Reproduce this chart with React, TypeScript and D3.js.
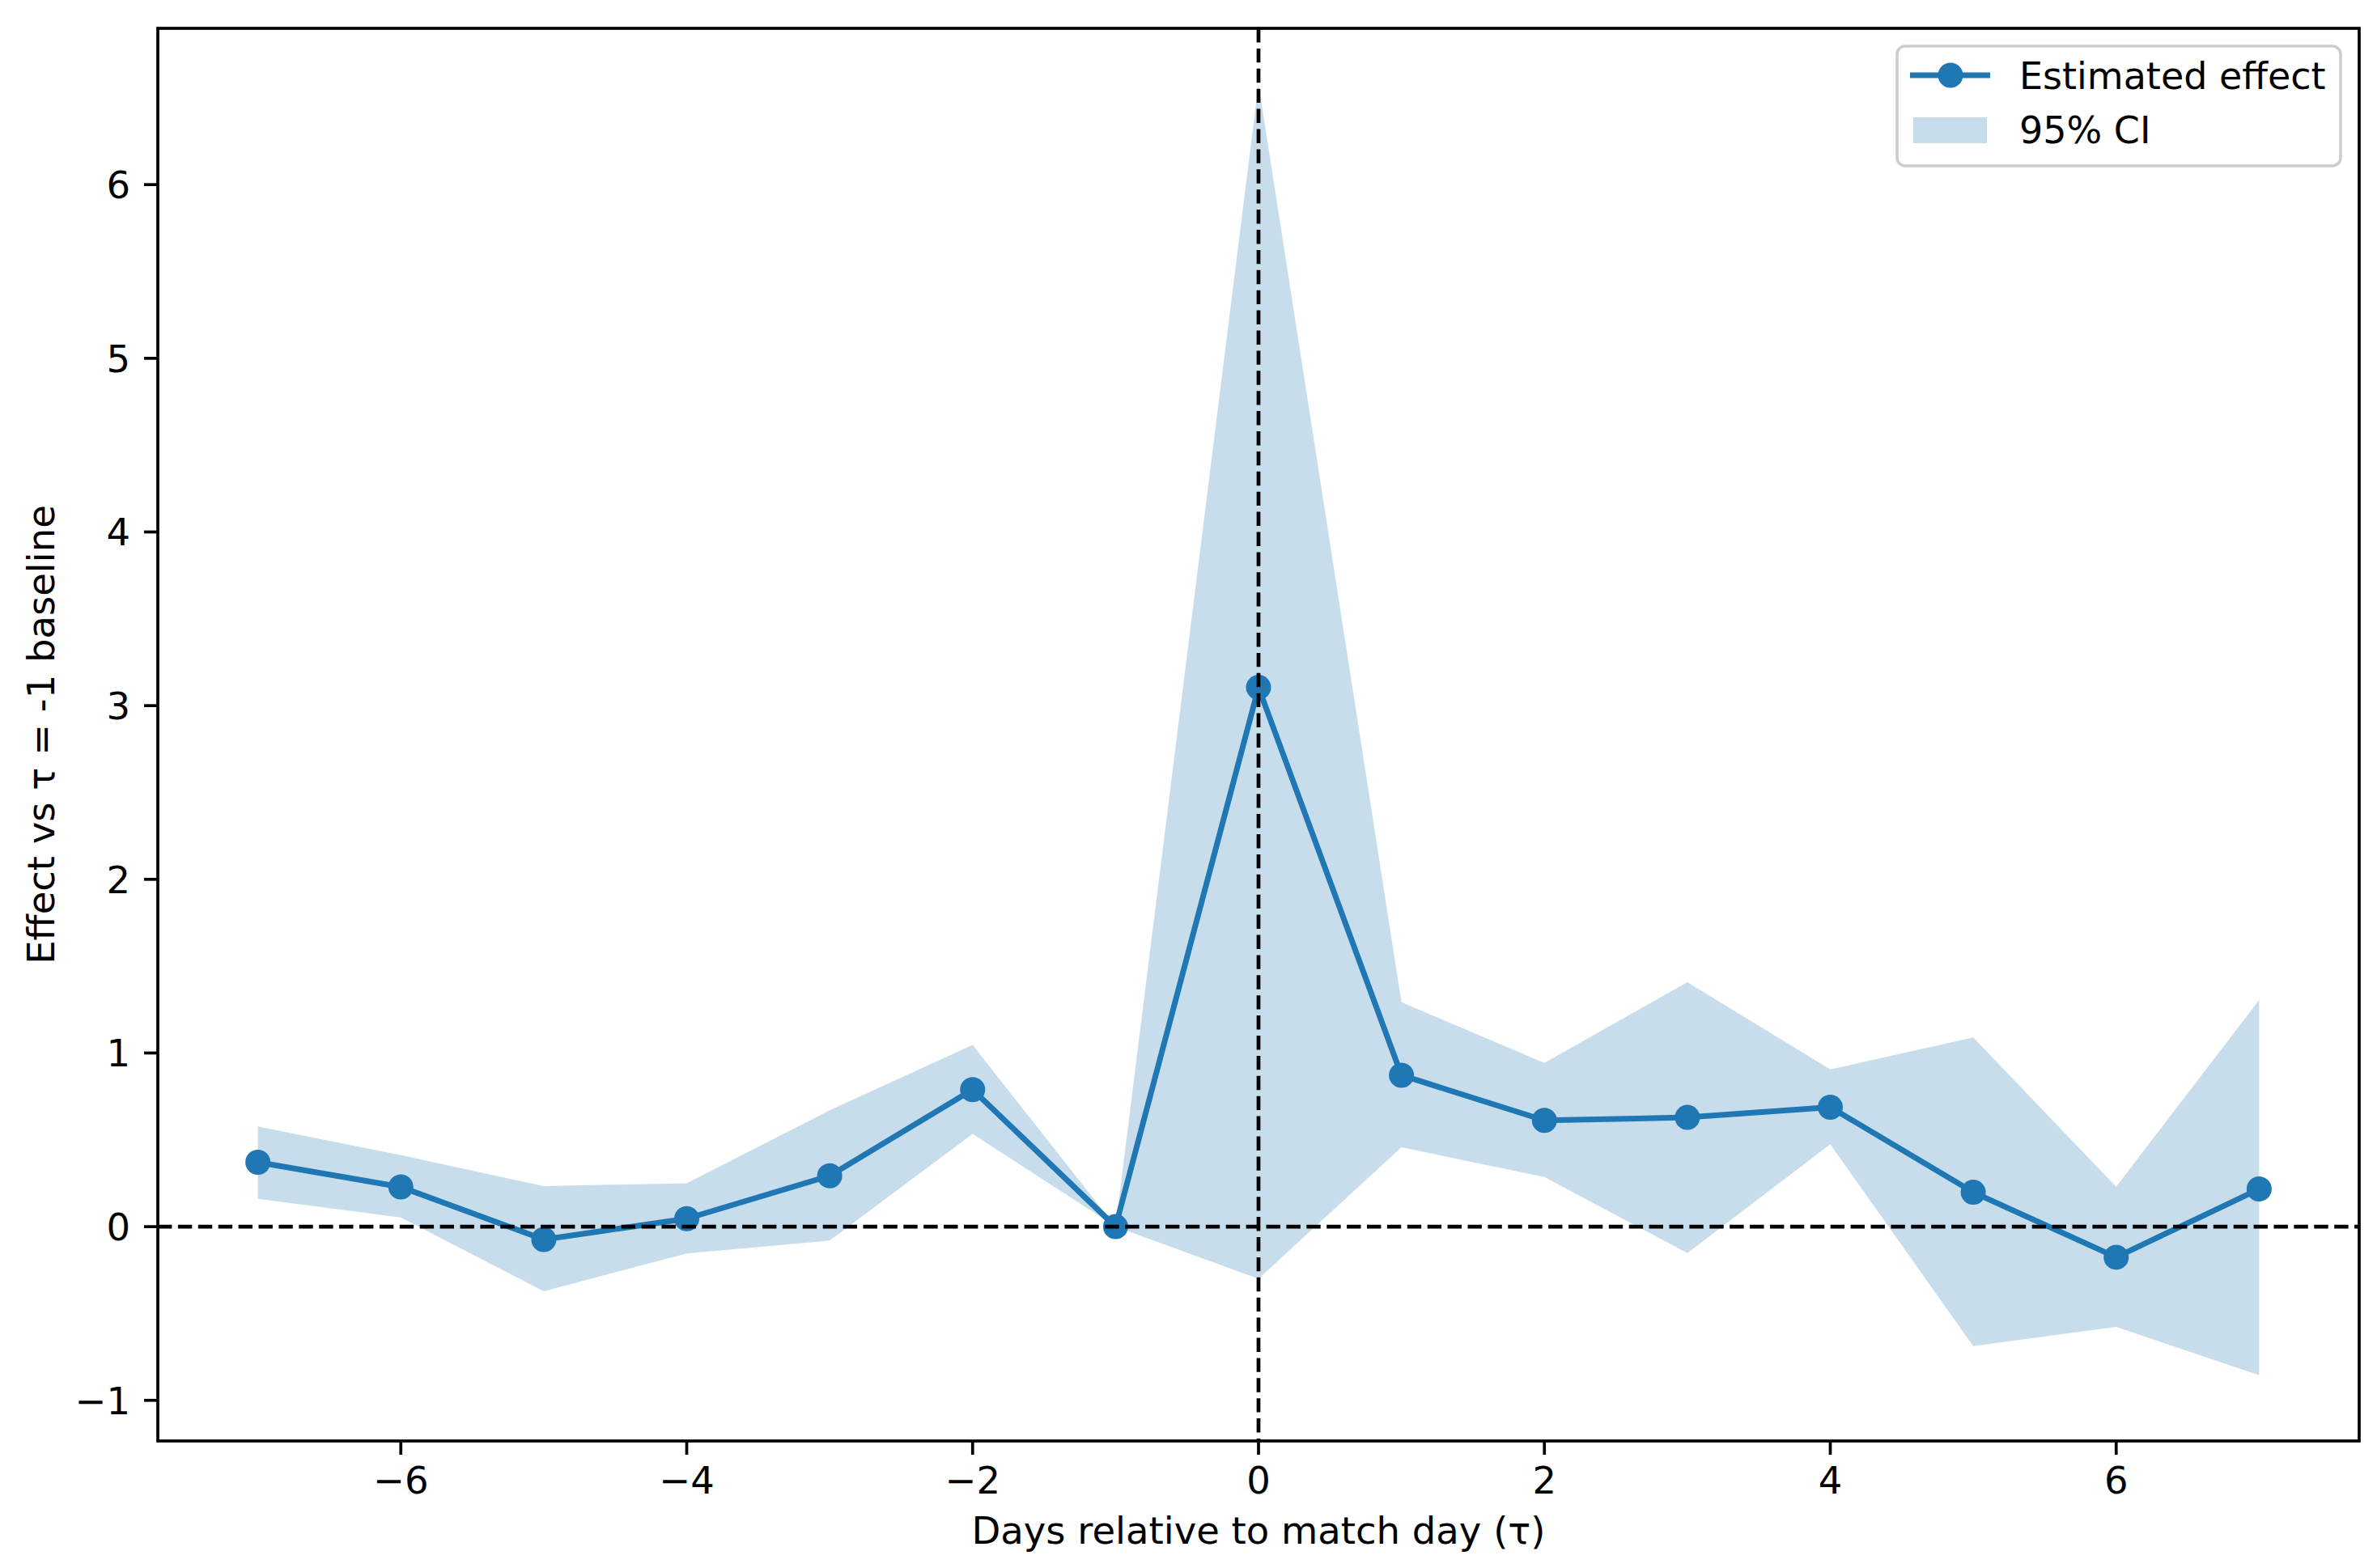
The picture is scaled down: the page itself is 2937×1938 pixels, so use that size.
import React from "react";
import * as d3 from "d3";

// event-study estimates, tau = -7 .. 7
const taus = [-7, -6, -5, -4, -3, -2, -1, 0, 1, 2, 3, 4, 5, 6, 7];
const estimates = [0.371, 0.229, -0.074, 0.046, 0.293, 0.789, 0, 3.105, 0.872, 0.612, 0.629, 0.688, 0.198, -0.176, 0.217];
const ciLower = [0.16, 0.053, -0.372, -0.154, -0.08, 0.534, 0, -0.3, 0.457, 0.286, -0.152, 0.474, -0.688, -0.577, -0.855];
const ciUpper = [0.577, 0.412, 0.234, 0.25, 0.67, 1.046, 0, 6.58, 1.292, 0.943, 1.408, 0.905, 1.09, 0.23, 1.305];

const xTicks = [-6, -4, -2, 0, 2, 4, 6];
const yTicks = [-1, 0, 1, 2, 3, 4, 5, 6];

const W = 2937;
const H = 1938;
const margin = { left: 195, right: W - 2915, top: 35, bottom: H - 1781 };
const blue = "#1f77b4";
const font = "DejaVu Sans, sans-serif";
const fs = 46.5;

const fmt = (v: number) => (v < 0 ? "\u2212" + Math.abs(v) : String(v));

export default function App() {
  const x = d3.scaleLinear().domain([-7.7, 7.7]).range([margin.left, W - margin.right]);
  const y = d3.scaleLinear().domain([-1.234, 6.9]).range([H - margin.bottom, margin.top]);

  const rows = taus.map((t, i) => ({ t, est: estimates[i], lo: ciLower[i], hi: ciUpper[i] }));

  const area = d3
    .area<typeof rows[number]>()
    .x((d) => x(d.t))
    .y0((d) => y(d.lo))
    .y1((d) => y(d.hi));
  const line = d3
    .line<typeof rows[number]>()
    .x((d) => x(d.t))
    .y((d) => y(d.est));

  const [x0, x1] = x.range();
  const [yb, yt] = y.range();

  return (
    <svg
      width={W}
      height={H}
      style={{ position: "absolute", left: 0, top: 0, background: "#fff" }}
      fontFamily={font}
    >
      <rect x={0} y={0} width={W} height={H} fill="#fff" />
      <defs>
        <clipPath id="plot">
          <rect x={x0} y={yt} width={x1 - x0} height={yb - yt} />
        </clipPath>
      </defs>

      <g clipPath="url(#plot)">
        <path d={area(rows) ?? ""} fill={blue} fillOpacity={0.25} />
        <path d={line(rows) ?? ""} fill="none" stroke={blue} strokeWidth={7} strokeLinejoin="round" />
        {rows.map((d) => (
          <circle key={d.t} cx={x(d.t)} cy={y(d.est)} r={15.5} fill={blue} />
        ))}
        <line x1={x0} x2={x1} y1={y(0)} y2={y(0)} stroke="#000" strokeWidth={4.7} strokeDasharray="17.4 7.5" />
        <line x1={x(0)} x2={x(0)} y1={yt} y2={yb} stroke="#000" strokeWidth={4.7} strokeDasharray="17.4 7.5" />
      </g>

      {/* x axis */}
      {xTicks.map((t) => (
        <g key={t}>
          <line x1={x(t)} x2={x(t)} y1={yb} y2={yb + 17} stroke="#000" strokeWidth={3.7} />
          <text x={x(t)} y={yb + 65} fontSize={fs} textAnchor="middle">
            {fmt(t)}
          </text>
        </g>
      ))}
      {/* y axis */}
      {yTicks.map((t) => (
        <g key={t}>
          <line x1={x0} x2={x0 - 17} y1={y(t)} y2={y(t)} stroke="#000" strokeWidth={3.7} />
          <text x={x0 - 34} y={y(t)} dy="0.36em" fontSize={fs} textAnchor="end">
            {fmt(t)}
          </text>
        </g>
      ))}

      <rect x={x0} y={yt} width={x1 - x0} height={yb - yt} fill="none" stroke="#000" strokeWidth={3.7} />

      <text x={(x0 + x1) / 2} y={1908} fontSize={fs} textAnchor="middle">
        Days relative to match day (τ)
      </text>
      <text transform={`translate(67,${(yt + yb) / 2}) rotate(-90)`} fontSize={fs} textAnchor="middle">
        Effect vs τ = -1 baseline
      </text>

      {/* legend */}
      <g>
        <rect x={2344} y={57} width={548} height={148} rx={10} fill="#fff" fillOpacity={0.8} stroke="#cccccc" strokeWidth={3.5} />
        <line x1={2360} x2={2459} y1={93} y2={93} stroke={blue} strokeWidth={7} />
        <circle cx={2410} cy={93} r={15.5} fill={blue} />
        <text x={2495} y={110} fontSize={46}>
          Estimated effect
        </text>
        <rect x={2364} y={145} width={91} height={32} fill={blue} fillOpacity={0.25} />
        <text x={2495} y={177} fontSize={46}>
          95% CI
        </text>
      </g>
    </svg>
  );
}
